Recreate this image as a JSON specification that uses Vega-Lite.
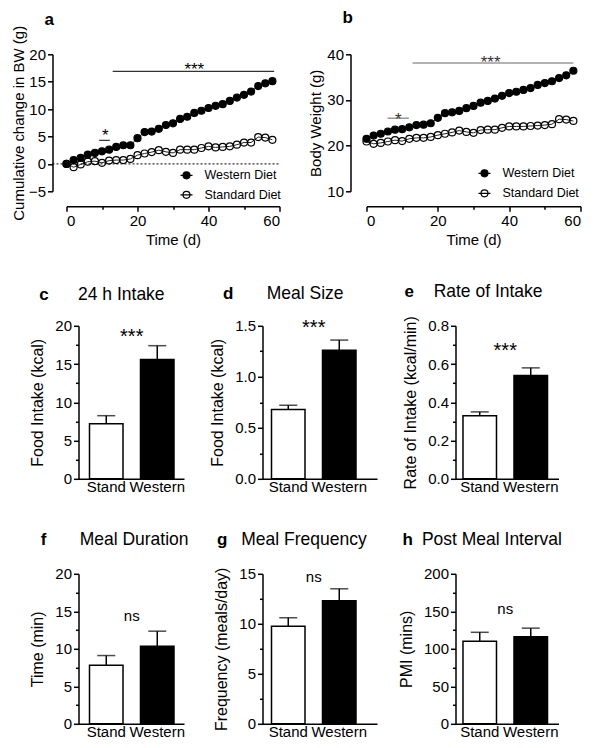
{
  "$schema": "https://vega.github.io/schema/vega-lite/v6.json",
  "padding": {"left": 10.5, "top": 9.3, "right": 5, "bottom": 5},
  "config": {
    "font": "Liberation Sans",
    "view": {"stroke": null},
    "axis": {"domainColor": "black", "domainWidth": 1.5, "tickColor": "black", "tickWidth": 1.5, "labelColor": "black", "titleColor": "black", "titleFontWeight": "normal", "grid": false, "labelFontSize": 15, "titleFontSize": 15, "tickSize": 5, "labelPadding": 2},
    "title": {"color": "black", "subtitleColor": "black", "fontSize": 17, "fontWeight": "bold", "anchor": "start", "frame": "group", "subtitleFontSize": 17.5, "subtitleFontWeight": "normal", "subtitlePadding": -17.5},
    "text": {"color": "black"}
  },
  "datasets": {
    "bw": [
      {"day":0,"diet":"Western Diet","change":0,"weight":21.5},
      {"day":2,"diet":"Western Diet","change":0.7,"weight":22.2},
      {"day":4,"diet":"Western Diet","change":1.1,"weight":22.6},
      {"day":6,"diet":"Western Diet","change":1.7,"weight":23.1},
      {"day":8,"diet":"Western Diet","change":2.0,"weight":23.5},
      {"day":10,"diet":"Western Diet","change":2.3,"weight":23.6},
      {"day":12,"diet":"Western Diet","change":2.6,"weight":24.0},
      {"day":14,"diet":"Western Diet","change":3.1,"weight":24.5},
      {"day":16,"diet":"Western Diet","change":3.4,"weight":24.6},
      {"day":18,"diet":"Western Diet","change":3.4,"weight":24.9},
      {"day":20,"diet":"Western Diet","change":4.7,"weight":26.1},
      {"day":22,"diet":"Western Diet","change":5.8,"weight":27.1},
      {"day":24,"diet":"Western Diet","change":5.9,"weight":27.3},
      {"day":26,"diet":"Western Diet","change":6.4,"weight":27.6},
      {"day":28,"diet":"Western Diet","change":7.1,"weight":28.2},
      {"day":30,"diet":"Western Diet","change":7.4,"weight":28.7},
      {"day":32,"diet":"Western Diet","change":8.2,"weight":29.4},
      {"day":34,"diet":"Western Diet","change":8.6,"weight":29.8},
      {"day":36,"diet":"Western Diet","change":9.3,"weight":30.3},
      {"day":38,"diet":"Western Diet","change":9.7,"weight":30.9},
      {"day":40,"diet":"Western Diet","change":10.2,"weight":31.5},
      {"day":42,"diet":"Western Diet","change":10.6,"weight":31.8},
      {"day":44,"diet":"Western Diet","change":10.9,"weight":32.2},
      {"day":46,"diet":"Western Diet","change":11.5,"weight":32.6},
      {"day":48,"diet":"Western Diet","change":12.1,"weight":33.3},
      {"day":50,"diet":"Western Diet","change":12.6,"weight":33.7},
      {"day":52,"diet":"Western Diet","change":13.2,"weight":34.1},
      {"day":54,"diet":"Western Diet","change":14.2,"weight":34.8},
      {"day":56,"diet":"Western Diet","change":14.7,"weight":35.4},
      {"day":58,"diet":"Western Diet","change":15.1,"weight":36.4},
      {"day":0,"diet":"Standard Diet","change":0,"weight":20.9},
      {"day":2,"diet":"Standard Diet","change":-0.6,"weight":20.4},
      {"day":4,"diet":"Standard Diet","change":-0.1,"weight":20.6},
      {"day":6,"diet":"Standard Diet","change":0.4,"weight":20.9},
      {"day":8,"diet":"Standard Diet","change":0.5,"weight":21.2},
      {"day":10,"diet":"Standard Diet","change":0.2,"weight":21.0},
      {"day":12,"diet":"Standard Diet","change":0.6,"weight":21.5},
      {"day":14,"diet":"Standard Diet","change":0.7,"weight":21.7},
      {"day":16,"diet":"Standard Diet","change":0.7,"weight":21.7},
      {"day":18,"diet":"Standard Diet","change":0.9,"weight":21.9},
      {"day":20,"diet":"Standard Diet","change":1.6,"weight":22.3},
      {"day":22,"diet":"Standard Diet","change":1.9,"weight":22.6},
      {"day":24,"diet":"Standard Diet","change":2.15,"weight":22.9},
      {"day":26,"diet":"Standard Diet","change":2.5,"weight":23.3},
      {"day":28,"diet":"Standard Diet","change":2.2,"weight":23.0},
      {"day":30,"diet":"Standard Diet","change":2.0,"weight":22.8},
      {"day":32,"diet":"Standard Diet","change":2.6,"weight":23.4},
      {"day":34,"diet":"Standard Diet","change":2.6,"weight":23.5},
      {"day":36,"diet":"Standard Diet","change":2.6,"weight":23.5},
      {"day":38,"diet":"Standard Diet","change":2.9,"weight":23.9},
      {"day":40,"diet":"Standard Diet","change":3.2,"weight":24.2},
      {"day":42,"diet":"Standard Diet","change":3.0,"weight":24.2},
      {"day":44,"diet":"Standard Diet","change":3.1,"weight":24.2},
      {"day":46,"diet":"Standard Diet","change":3.2,"weight":24.3},
      {"day":48,"diet":"Standard Diet","change":3.5,"weight":24.4},
      {"day":50,"diet":"Standard Diet","change":3.9,"weight":24.5},
      {"day":52,"diet":"Standard Diet","change":3.9,"weight":24.7},
      {"day":54,"diet":"Standard Diet","change":4.9,"weight":25.8},
      {"day":56,"diet":"Standard Diet","change":4.8,"weight":25.7},
      {"day":58,"diet":"Standard Diet","change":4.4,"weight":25.4}
    ],
    "bars": [
      {"panel":"c","group":"Stand","mean":7.2,"upper":8.25},
      {"panel":"c","group":"Western","mean":15.6,"upper":17.4},
      {"panel":"d","group":"Stand","mean":0.68,"upper":0.72},
      {"panel":"d","group":"Western","mean":1.26,"upper":1.36},
      {"panel":"e","group":"Stand","mean":0.33,"upper":0.35},
      {"panel":"e","group":"Western","mean":0.54,"upper":0.58},
      {"panel":"f","group":"Stand","mean":7.8,"upper":9.1},
      {"panel":"f","group":"Western","mean":10.35,"upper":12.35},
      {"panel":"g","group":"Stand","mean":9.75,"upper":10.6},
      {"panel":"g","group":"Western","mean":12.3,"upper":13.5},
      {"panel":"h","group":"Stand","mean":110,"upper":122},
      {"panel":"h","group":"Western","mean":116,"upper":127.5}
    ],
    "annot": [
      {"panel":"a","kind":"zero","x1":-3.94,"x2":60,"y":0},
      {"panel":"a","kind":"sig","x1":13,"x2":58.5,"y":16.9},
      {"panel":"a","kind":"sig","x1":9.2,"x2":12.2,"y":4.3},
      {"panel":"a","kind":"label","x1":36,"y":16.16,"text":"***"},
      {"panel":"a","kind":"label","x1":10.9,"y":4.2,"text":"*"},
      {"panel":"b","kind":"sig","x1":12.9,"x2":58,"y":38.1},
      {"panel":"b","kind":"sig","x1":5.9,"x2":11.9,"y":26.0},
      {"panel":"b","kind":"label","x1":34.8,"y":37.1,"text":"***"},
      {"panel":"b","kind":"label","x1":8.9,"y":24.6,"text":"*"},
      {"panel":"c","kind":"label","group":"Western","y":17.75,"text":"***"},
      {"panel":"d","kind":"label","group":"Western","y":1.42,"text":"***"},
      {"panel":"e","kind":"label","group":"Western","y":0.638,"text":"***"},
      {"panel":"f","kind":"label","group":"Western","y":13.7,"text":"ns"},
      {"panel":"g","kind":"label","group":"Western","y":14.2,"text":"ns"},
      {"panel":"h","kind":"label","group":"Western","y":146.8,"text":"ns"}
    ]
  },
  "spacing": 34.5,
  "resolve": {"scale": {"fill": "independent"}, "legend": {"fill": "independent"}},
  "vconcat": [
    {
      "bounds": "flush",
      "spacing": 87,
      "resolve": {"scale": {"fill": "independent"}, "legend": {"fill": "independent"}},
      "hconcat": [
        {
          "width": 213, "height": 137,
          "title": {"text": "a", "dx": -22, "offset": -3.3},
          "data": {"name": "bw"},
          "encoding": {
            "x": {"field": "day", "type": "quantitative", "title": "Time (d)", "scale": {"domain": [0, 60], "nice": false, "zero": false},
              "axis": {"values": [0,10,20,30,40,50,60], "labelExpr": "datum.value % 20 === 0 ? datum.label : ''", "tickSize": {"condition": {"test": "datum.value % 20 === 0", "value": 5}, "value": 3}, "offset": 15, "titlePadding": 4}},
            "y": {"field": "change", "type": "quantitative", "title": "Cumulative change in BW (g)", "scale": {"domain": [-5, 20], "nice": false, "zero": false},
              "axis": {"values": [-5,0,5,10,15,20], "offset": 14, "titlePadding": 2}}
          },
          "layer": [
            {"data": {"name": "annot"}, "transform": [{"filter": "datum.panel === 'a' && datum.kind === 'zero'"}],
              "mark": {"type": "rule", "strokeDash": [2, 2], "strokeWidth": 1, "color": "black"},
              "encoding": {"x": {"field": "x1", "type": "quantitative", "title": "Time (d)"}, "x2": {"field": "x2"}, "y": {"field": "y", "type": "quantitative", "title": "Cumulative change in BW (g)"}}},
            {"mark": {"type": "line", "color": "#222", "strokeWidth": 1}, "encoding": {"detail": {"field": "diet"}}},
            {"mark": {"type": "point", "shape": "circle", "filled": true, "size": 49, "stroke": "black", "strokeWidth": 1.2, "opacity": 1},
              "encoding": {"fill": {"field": "diet", "type": "nominal", "scale": {"domain": ["Western Diet", "Standard Diet"], "range": ["black", "rgba(0,0,0,0)"]},
                "legend": {"title": null, "orient": "none", "legendX": 113, "legendY": 114, "symbolType": "M-1,0L1,0M0.58,0A0.58,0.58,0,1,1,-0.58,0A0.58,0.58,0,1,1,0.58,0Z", "symbolSize": 144, "symbolStrokeColor": "black", "symbolStrokeWidth": 1.2, "labelFontSize": 12.5, "labelOffset": 11, "rowPadding": 5.5, "padding": 0, "labelColor": "black"}}}},
            {"data": {"name": "annot"}, "transform": [{"filter": "datum.panel === 'a' && datum.kind === 'sig'"}],
              "mark": {"type": "rule", "strokeWidth": 1.2, "color": "#333"},
              "encoding": {"x": {"field": "x1", "type": "quantitative", "title": "Time (d)"}, "x2": {"field": "x2"}, "y": {"field": "y", "type": "quantitative", "title": "Cumulative change in BW (g)"}}},
            {"data": {"name": "annot"}, "transform": [{"filter": "datum.panel === 'a' && datum.kind === 'label'"}],
              "mark": {"type": "text", "fontSize": 17, "baseline": "alphabetic", "align": "center"},
              "encoding": {"x": {"field": "x1", "type": "quantitative", "title": "Time (d)"}, "y": {"field": "y", "type": "quantitative", "title": "Cumulative change in BW (g)"}, "text": {"field": "text"}}}
          ]
        },
        {
          "width": 214, "height": 137,
          "title": {"text": "b", "dx": -24, "offset": 20},
          "data": {"name": "bw"},
          "encoding": {
            "x": {"field": "day", "type": "quantitative", "title": "Time (d)", "scale": {"domain": [0, 60], "nice": false, "zero": false},
              "axis": {"values": [0,10,20,30,40,50,60], "labelExpr": "datum.value % 20 === 0 ? datum.label : ''", "tickSize": {"condition": {"test": "datum.value % 20 === 0", "value": 5}, "value": 3}, "offset": 15, "titlePadding": 4}},
            "y": {"field": "weight", "type": "quantitative", "title": "Body Weight (g)", "scale": {"domain": [10, 40], "nice": false, "zero": false},
              "axis": {"values": [10,20,30,40], "offset": 16, "titlePadding": 3.5}}
          },
          "layer": [
            {"mark": {"type": "line", "color": "#222", "strokeWidth": 1}, "encoding": {"detail": {"field": "diet"}}},
            {"mark": {"type": "point", "shape": "circle", "filled": true, "size": 49, "stroke": "black", "strokeWidth": 1.2, "opacity": 1},
              "encoding": {"fill": {"field": "diet", "type": "nominal", "scale": {"domain": ["Western Diet", "Standard Diet"], "range": ["black", "rgba(0,0,0,0)"]},
                "legend": {"title": null, "orient": "none", "legendX": 111, "legendY": 112, "symbolType": "M-1,0L1,0M0.58,0A0.58,0.58,0,1,1,-0.58,0A0.58,0.58,0,1,1,0.58,0Z", "symbolSize": 144, "symbolStrokeColor": "black", "symbolStrokeWidth": 1.2, "labelFontSize": 12.5, "labelOffset": 11, "rowPadding": 6, "padding": 0, "labelColor": "black"}}}},
            {"data": {"name": "annot"}, "transform": [{"filter": "datum.panel === 'b' && datum.kind === 'sig'"}],
              "mark": {"type": "rule", "strokeWidth": 1.5, "color": "#999"},
              "encoding": {"x": {"field": "x1", "type": "quantitative", "title": "Time (d)"}, "x2": {"field": "x2"}, "y": {"field": "y", "type": "quantitative", "title": "Body Weight (g)"}}},
            {"data": {"name": "annot"}, "transform": [{"filter": "datum.panel === 'b' && datum.kind === 'label'"}],
              "mark": {"type": "text", "fontSize": 17, "baseline": "alphabetic", "align": "center", "color": "#333"},
              "encoding": {"x": {"field": "x1", "type": "quantitative", "title": "Time (d)"}, "y": {"field": "y", "type": "quantitative", "title": "Body Weight (g)"}, "text": {"field": "text"}}}
          ]
        }
      ]
    },
    {
      "bounds": "flush",
      "columns": 3,
      "spacing": {"row": 95, "column": 78},
      "concat": [
        {
          "width": 117.5, "height": 153,
          "title": {"text": "c", "subtitle": "\u200b\u00a0\u00a0\u00a0\u00a0\u00a0\u00a0\u00a0\u00a024 h Intake", "dx": -27.3, "offset": 14},
          "data": {"name": "bars"},
          "transform": [{"filter": "datum.panel === 'c'"}],
          "encoding": {
            "x": {"field": "group", "type": "nominal", "title": null, "sort": ["Stand", "Western"], "scale": {"paddingInner": 0.343, "paddingOuter": 0.3235, "align": 0.697}, "axis": {"ticks": false, "labelAngle": 0, "labelPadding": 1, "labelFontSize": 15, "domainDash": [0, 12, 400]}},
            "y": {"field": "mean", "type": "quantitative", "stack": null, "title": "Food Intake (kcal)", "scale": {"domain": [0, 20], "nice": false}, "axis": {"offset": -12, "titleFontSize": 16, "titlePadding": 9, "values": [0,2.5,5,7.5,10,12.5,15,17.5,20], "format": "d", "labelExpr": "datum.value % 5 === 0 ? datum.label : ''", "tickSize": {"condition": {"test": "datum.value % 5 === 0", "value": 5}, "value": 3}}}
          },
          "layer": [
            {"mark": {"type": "bar", "stroke": "black", "strokeWidth": 1.5}, "encoding": {"fill": {"condition": {"test": "datum.group === 'Stand'", "value": "white"}, "value": "black"}}},
            {"mark": {"type": "rule", "strokeWidth": 1.5, "color": "black"}, "encoding": {"y2": {"field": "upper"}}},
            {"mark": {"type": "tick", "thickness": 1.5, "size": 18, "color": "black"}, "encoding": {"y": {"field": "upper", "type": "quantitative", "title": "Food Intake (kcal)"}}},
            {"data": {"name": "annot"}, "transform": [{"filter": "datum.panel === 'c'"}], "mark": {"type": "text", "fontSize": 20, "baseline": "alphabetic", "align": "center", "dx": -25.5}, "encoding": {"y": {"field": "y", "type": "quantitative", "title": "Food Intake (kcal)"}, "text": {"field": "text"}}}
          ]
        },
        {
          "width": 114.5, "height": 153,
          "title": {"text": "d", "subtitle": "\u200b\u00a0\u00a0\u00a0\u00a0\u00a0\u00a0\u00a0\u00a0\u00a0Meal Size", "dx": -39.5, "offset": 14},
          "data": {"name": "bars"},
          "transform": [{"filter": "datum.panel === 'd'"}],
          "encoding": {
            "x": {"field": "group", "type": "nominal", "title": null, "sort": ["Stand", "Western"], "scale": {"paddingInner": 0.343, "paddingOuter": 0.294, "align": 0.3}, "axis": {"ticks": false, "labelAngle": 0, "labelPadding": 1, "labelFontSize": 15}},
            "y": {"field": "mean", "type": "quantitative", "stack": null, "title": "Food Intake (kcal)", "scale": {"domain": [0, 1.5], "nice": false}, "axis": {"titleFontSize": 16, "titlePadding": 9, "values": [0,0.25,0.5,0.75,1,1.25,1.5], "format": ".1f", "labelExpr": "round(datum.value * 100) % 50 === 0 ? datum.label : ''", "tickSize": {"condition": {"test": "round(datum.value * 100) % 50 === 0", "value": 5}, "value": 3}}}
          },
          "layer": [
            {"mark": {"type": "bar", "stroke": "black", "strokeWidth": 1.5}, "encoding": {"fill": {"condition": {"test": "datum.group === 'Stand'", "value": "white"}, "value": "black"}}},
            {"mark": {"type": "rule", "strokeWidth": 1.5, "color": "black"}, "encoding": {"y2": {"field": "upper"}}},
            {"mark": {"type": "tick", "thickness": 1.5, "size": 18, "color": "black"}, "encoding": {"y": {"field": "upper", "type": "quantitative", "title": "Food Intake (kcal)"}}},
            {"data": {"name": "annot"}, "transform": [{"filter": "datum.panel === 'd'"}], "mark": {"type": "text", "fontSize": 20, "baseline": "alphabetic", "align": "center", "dx": -25.5}, "encoding": {"y": {"field": "y", "type": "quantitative", "title": "Food Intake (kcal)"}, "text": {"field": "text"}}}
          ]
        },
        {
          "width": 103, "height": 153,
          "title": {"text": "e", "subtitle": "\u200b\u00a0\u00a0\u00a0\u00a0\u00a0\u00a0Rate of Intake", "dx": -51, "offset": 14},
          "data": {"name": "bars"},
          "transform": [{"filter": "datum.panel === 'e'"}],
          "encoding": {
            "x": {"field": "group", "type": "nominal", "title": null, "sort": ["Stand", "Western"], "scale": {"paddingInner": 0.343, "paddingOuter": 0.181, "align": 0.405}, "axis": {"ticks": false, "labelAngle": 0, "labelPadding": 1, "labelFontSize": 15}},
            "y": {"field": "mean", "type": "quantitative", "stack": null, "title": "Rate of Intake (kcal/min)", "scale": {"domain": [0, 0.8], "nice": false}, "axis": {"titleFontSize": 16, "titlePadding": 9, "values": [0,0.1,0.2,0.3,0.4,0.5,0.6,0.7,0.8], "format": ".1f", "labelExpr": "round(datum.value * 10) % 2 === 0 ? datum.label : ''", "tickSize": {"condition": {"test": "round(datum.value * 10) % 2 === 0", "value": 5}, "value": 3}}}
          },
          "layer": [
            {"mark": {"type": "bar", "stroke": "black", "strokeWidth": 1.5}, "encoding": {"fill": {"condition": {"test": "datum.group === 'Stand'", "value": "white"}, "value": "black"}}},
            {"mark": {"type": "rule", "strokeWidth": 1.5, "color": "black"}, "encoding": {"y2": {"field": "upper"}}},
            {"mark": {"type": "tick", "thickness": 1.5, "size": 18, "color": "black"}, "encoding": {"y": {"field": "upper", "type": "quantitative", "title": "Rate of Intake (kcal/min)"}}},
            {"data": {"name": "annot"}, "transform": [{"filter": "datum.panel === 'e'"}], "mark": {"type": "text", "fontSize": 20, "baseline": "alphabetic", "align": "center", "dx": -25.5}, "encoding": {"y": {"field": "y", "type": "quantitative", "title": "Rate of Intake (kcal/min)"}, "text": {"field": "text"}}}
          ]
        },
        {
          "width": 117.5, "height": 150,
          "title": {"text": "f", "subtitle": "\u200b\u00a0\u00a0\u00a0\u00a0\u00a0\u00a0\u00a0\u00a0Meal Duration", "dx": -25.7, "offset": 17},
          "data": {"name": "bars"},
          "transform": [{"filter": "datum.panel === 'f'"}],
          "encoding": {
            "x": {"field": "group", "type": "nominal", "title": null, "sort": ["Stand", "Western"], "scale": {"paddingInner": 0.343, "paddingOuter": 0.3235, "align": 0.697}, "axis": {"ticks": false, "labelAngle": 0, "labelPadding": 1, "labelFontSize": 15, "domainDash": [0, 12, 400]}},
            "y": {"field": "mean", "type": "quantitative", "stack": null, "title": "Time (min)", "scale": {"domain": [0, 20], "nice": false}, "axis": {"offset": -12, "titleFontSize": 16, "titlePadding": 9, "values": [0,2.5,5,7.5,10,12.5,15,17.5,20], "format": "d", "labelExpr": "datum.value % 5 === 0 ? datum.label : ''", "tickSize": {"condition": {"test": "datum.value % 5 === 0", "value": 5}, "value": 3}}}
          },
          "layer": [
            {"mark": {"type": "bar", "stroke": "black", "strokeWidth": 1.5}, "encoding": {"fill": {"condition": {"test": "datum.group === 'Stand'", "value": "white"}, "value": "black"}}},
            {"mark": {"type": "rule", "strokeWidth": 1.5, "color": "black"}, "encoding": {"y2": {"field": "upper"}}},
            {"mark": {"type": "tick", "thickness": 1.5, "size": 18, "color": "black"}, "encoding": {"y": {"field": "upper", "type": "quantitative", "title": "Time (min)"}}},
            {"data": {"name": "annot"}, "transform": [{"filter": "datum.panel === 'f'"}], "mark": {"type": "text", "fontSize": 15, "baseline": "alphabetic", "align": "center", "dx": -25.5}, "encoding": {"y": {"field": "y", "type": "quantitative", "title": "Time (min)"}, "text": {"field": "text"}}}
          ]
        },
        {
          "width": 114.5, "height": 150,
          "title": {"text": "g", "subtitle": "\u200b\u00a0\u00a0\u00a0\u00a0\u00a0Meal Frequency", "dx": -45.5, "offset": 17},
          "data": {"name": "bars"},
          "transform": [{"filter": "datum.panel === 'g'"}],
          "encoding": {
            "x": {"field": "group", "type": "nominal", "title": null, "sort": ["Stand", "Western"], "scale": {"paddingInner": 0.343, "paddingOuter": 0.294, "align": 0.3}, "axis": {"ticks": false, "labelAngle": 0, "labelPadding": 1, "labelFontSize": 15}},
            "y": {"field": "mean", "type": "quantitative", "stack": null, "title": "Frequency (meals/day)", "scale": {"domain": [0, 15], "nice": false}, "axis": {"titleFontSize": 16, "titlePadding": 9, "values": [0,2.5,5,7.5,10,12.5,15], "format": "d", "labelExpr": "datum.value % 5 === 0 ? datum.label : ''", "tickSize": {"condition": {"test": "datum.value % 5 === 0", "value": 5}, "value": 3}}}
          },
          "layer": [
            {"mark": {"type": "bar", "stroke": "black", "strokeWidth": 1.5}, "encoding": {"fill": {"condition": {"test": "datum.group === 'Stand'", "value": "white"}, "value": "black"}}},
            {"mark": {"type": "rule", "strokeWidth": 1.5, "color": "black"}, "encoding": {"y2": {"field": "upper"}}},
            {"mark": {"type": "tick", "thickness": 1.5, "size": 18, "color": "black"}, "encoding": {"y": {"field": "upper", "type": "quantitative", "title": "Frequency (meals/day)"}}},
            {"data": {"name": "annot"}, "transform": [{"filter": "datum.panel === 'g'"}], "mark": {"type": "text", "fontSize": 15, "baseline": "alphabetic", "align": "center", "dx": -25.5}, "encoding": {"y": {"field": "y", "type": "quantitative", "title": "Frequency (meals/day)"}, "text": {"field": "text"}}}
          ]
        },
        {
          "width": 103, "height": 150,
          "title": {"text": "h", "subtitle": "\u200b\u00a0\u00a0\u00a0\u00a0Post Meal Interval", "dx": -53, "offset": 17},
          "data": {"name": "bars"},
          "transform": [{"filter": "datum.panel === 'h'"}],
          "encoding": {
            "x": {"field": "group", "type": "nominal", "title": null, "sort": ["Stand", "Western"], "scale": {"paddingInner": 0.343, "paddingOuter": 0.181, "align": 0.405}, "axis": {"ticks": false, "labelAngle": 0, "labelPadding": 1, "labelFontSize": 15}},
            "y": {"field": "mean", "type": "quantitative", "stack": null, "title": "PMI (mins)", "scale": {"domain": [0, 200], "nice": false}, "axis": {"titleFontSize": 16, "titlePadding": 9, "values": [0,25,50,75,100,125,150,175,200], "format": "d", "labelExpr": "datum.value % 50 === 0 ? datum.label : ''", "tickSize": {"condition": {"test": "datum.value % 50 === 0", "value": 5}, "value": 3}}}
          },
          "layer": [
            {"mark": {"type": "bar", "stroke": "black", "strokeWidth": 1.5}, "encoding": {"fill": {"condition": {"test": "datum.group === 'Stand'", "value": "white"}, "value": "black"}}},
            {"mark": {"type": "rule", "strokeWidth": 1.5, "color": "black"}, "encoding": {"y2": {"field": "upper"}}},
            {"mark": {"type": "tick", "thickness": 1.5, "size": 18, "color": "black"}, "encoding": {"y": {"field": "upper", "type": "quantitative", "title": "PMI (mins)"}}},
            {"data": {"name": "annot"}, "transform": [{"filter": "datum.panel === 'h'"}], "mark": {"type": "text", "fontSize": 15, "baseline": "alphabetic", "align": "center", "dx": -25.5}, "encoding": {"y": {"field": "y", "type": "quantitative", "title": "PMI (mins)"}, "text": {"field": "text"}}}
          ]
        }
      ]
    }
  ]
}
